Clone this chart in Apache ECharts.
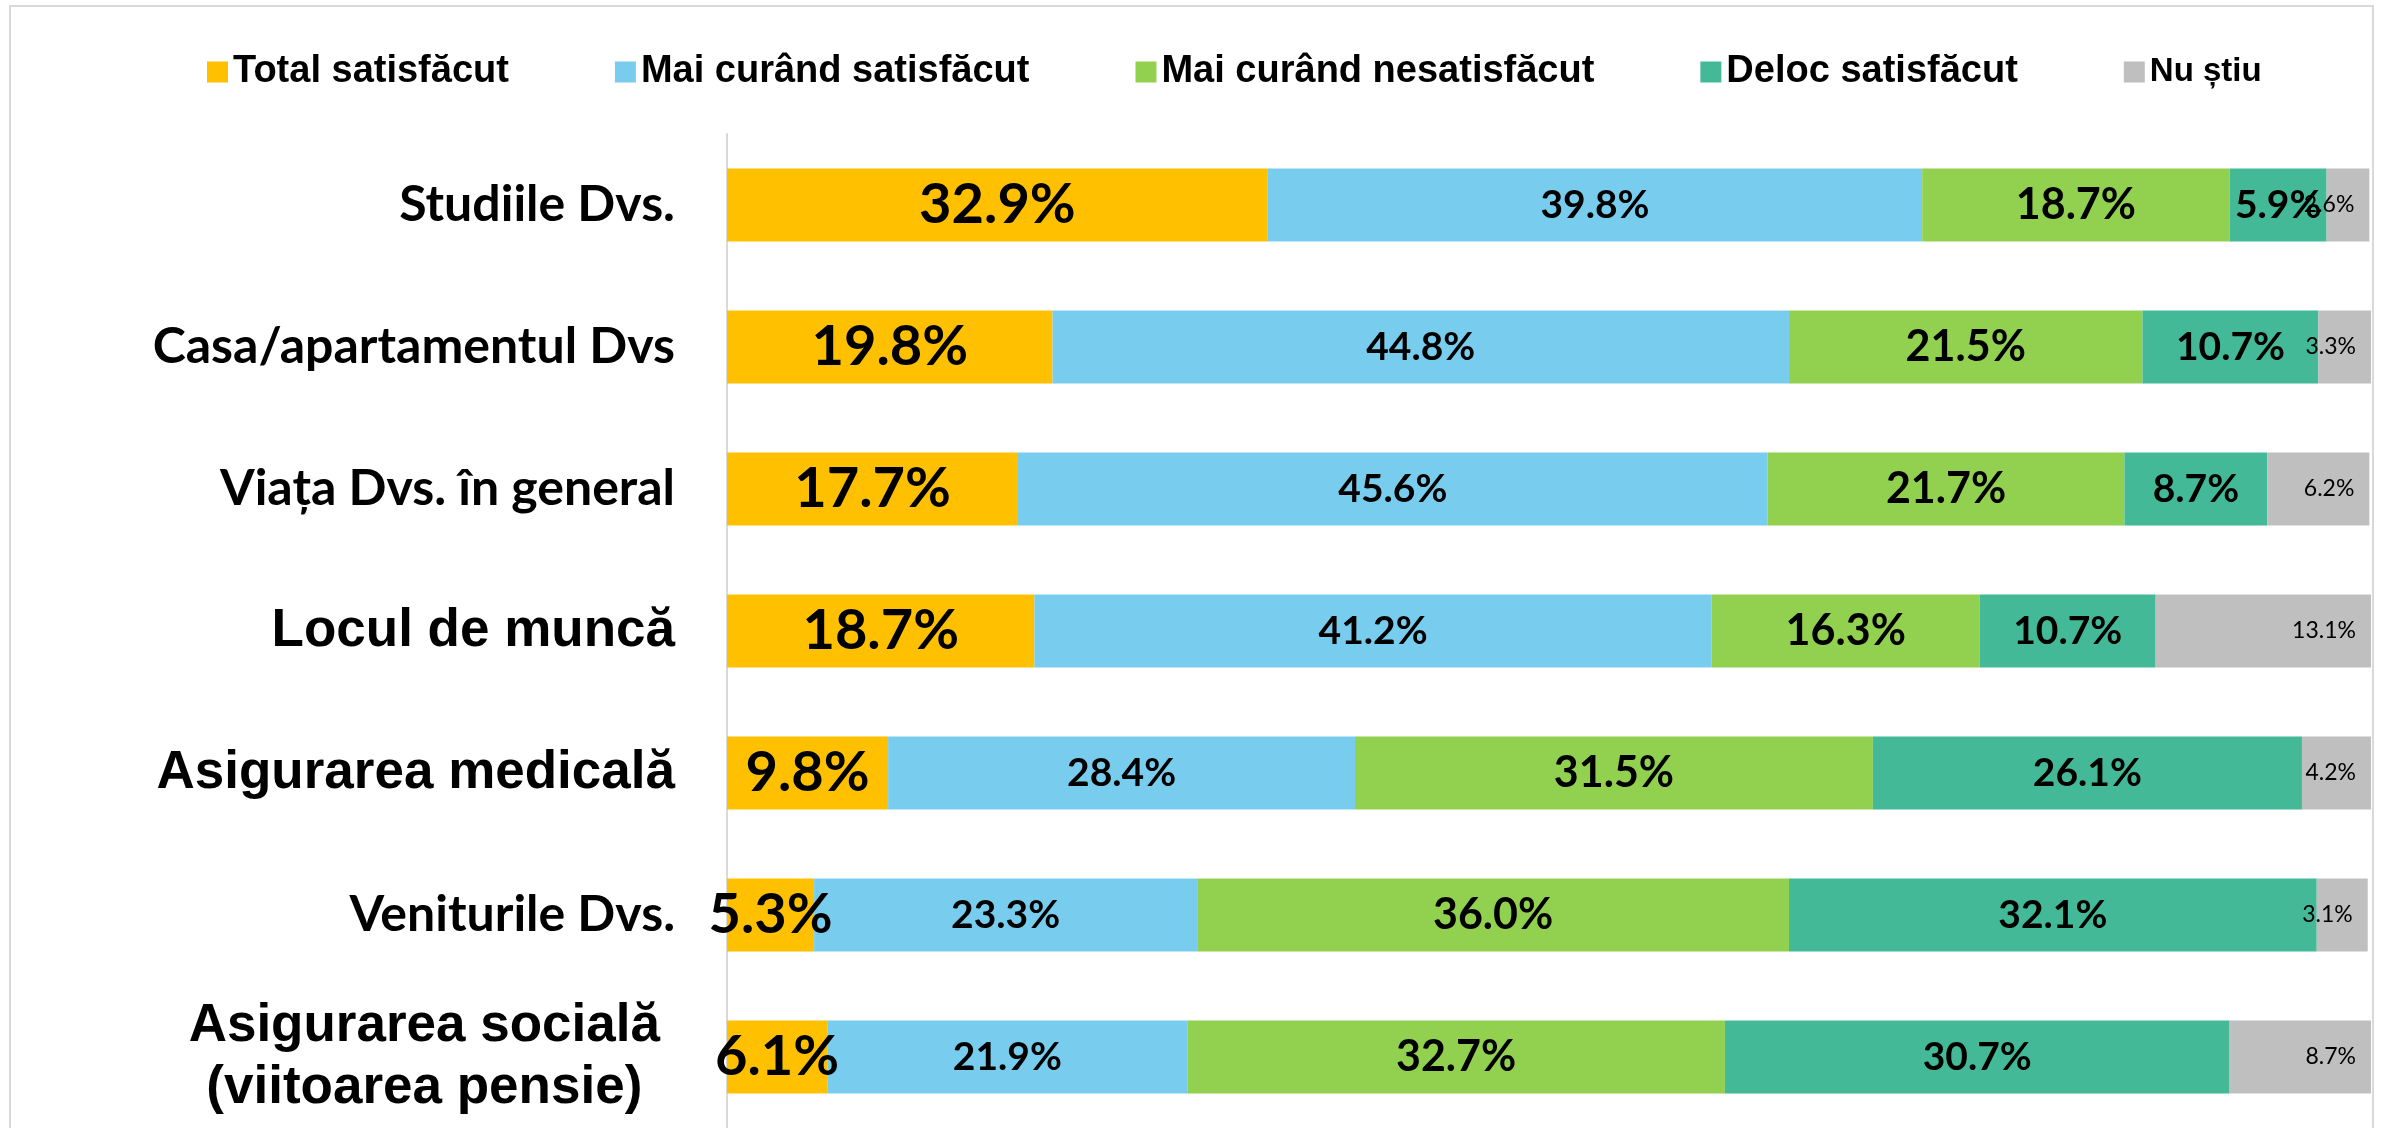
<!DOCTYPE html>
<html>
<head>
<meta charset="UTF-8"/>
<title>Satisfactie</title>
<script src="https://cdn.jsdelivr.net/npm/echarts@6/dist/echarts.min.js"></script>
<style>
    html, body { margin: 0; padding: 0; background: #fff; }
    #main { width: 2389px; height: 1128px; }
</style>
</head>
<body>
<div id="main"></div>
<script>
// date (%)
var categories = ['Studiile Dvs.', 'Casa/apartamentul Dvs', 'Viața Dvs. în general', 'Locul de muncă',
    'Asigurarea medicală', 'Veniturile Dvs.', 'Asigurarea socială\n(viitoarea pensie)'];
var seriesNames = ['Total satisfăcut', 'Mai curând satisfăcut', 'Mai curând nesatisfăcut', 'Deloc satisfăcut', 'Nu știu'];
var totalSatisfacut = [32.9, 19.8, 17.7, 18.7, 9.8, 5.3, 6.1];
var maiCurandSatisfacut = [39.8, 44.8, 45.6, 41.2, 28.4, 23.3, 21.9];
var maiCurandNesatisfacut = [18.7, 21.5, 21.7, 16.3, 31.5, 36.0, 32.7];
var delocSatisfacut = [5.9, 10.7, 8.7, 10.7, 26.1, 32.1, 30.7];
var nuStiu = [2.6, 3.3, 6.2, 13.1, 4.2, 3.1, 8.7];

var values = [totalSatisfacut, maiCurandSatisfacut, maiCurandNesatisfacut, delocSatisfacut, nuStiu];
var colors = ['#FFC000', '#78CDEF', '#92D050', '#43B997', '#BFBFBF'];
var labelSizes = [56, 39, 43, 39, 23];
// stilul etichetei pe axa (c = calibri-like, a = arial, s = doua randuri)
var catStyle = ['c', 'c', 'c', 'a', 'a', 'c', 's'];

var chart = echarts.init(document.getElementById('main'));

var series = seriesNames.map(function (name, i) {
    var last = i === seriesNames.length - 1;
    return {
        name: name,
        type: 'bar',
        stack: 'total',
        barWidth: 73,
        data: values[i],
        itemStyle: { color: colors[i] },
        label: {
            show: true,
            position: last ? 'insideRight' : 'inside',
            distance: last ? 15 : 5,
            formatter: function (p) { return p.value.toFixed(1) + '%'; },
            fontFamily: 'Lato',
            fontWeight: last ? 'normal' : 'bold',
            fontSize: labelSizes[i],
            color: '#000'
        }
    };
});

var option = {
    animation: false,
    backgroundColor: '#fff',
    graphic: [{
        type: 'rect',
        shape: { x: 10, y: 6, width: 2363, height: 1200 },
        style: { fill: 'none', stroke: '#D9D9D9', lineWidth: 2 },
        silent: true
    }],
    legend: {
        top: 48,
        left: 202,
        icon: 'rect',
        itemWidth: 21,
        itemHeight: 21,
        itemGap: 106,
        textStyle: { fontFamily: 'Liberation Sans', fontWeight: 'bold', fontSize: 38, color: '#000' },
        data: seriesNames.map(function (n, i) {
            return i === 4 ? { name: n, textStyle: { fontSize: 33 } } : { name: n };
        })
    },
    grid: { left: 727, top: 134, width: 1644, height: 997.5 },
    xAxis: {
        type: 'value',
        min: 0,
        max: 100,
        show: false
    },
    yAxis: {
        type: 'category',
        inverse: true,
        data: categories,
        axisLine: { lineStyle: { color: '#D9D9D9', width: 2 } },
        axisTick: { show: false },
        axisLabel: {
            margin: 52,
            formatter: function (value, index) {
                var st = catStyle[index];
                return value.split('\n').map(function (line) {
                    return '{' + st + '|' + line + '}';
                }).join('\n');
            },
            rich: {
                c: { fontFamily: 'Lato', fontWeight: 'bold', fontSize: 50, color: '#000' },
                a: { fontFamily: 'Liberation Sans', fontWeight: 'bold', fontSize: 53, color: '#000' },
                s: { fontFamily: 'Liberation Sans', fontWeight: 'bold', fontSize: 53, color: '#000',
                    lineHeight: 62, align: 'center', padding: [0, 15, 0, 0] }
            }
        }
    },
    series: series
};

chart.setOption(option);
</script>
</body>
</html>
